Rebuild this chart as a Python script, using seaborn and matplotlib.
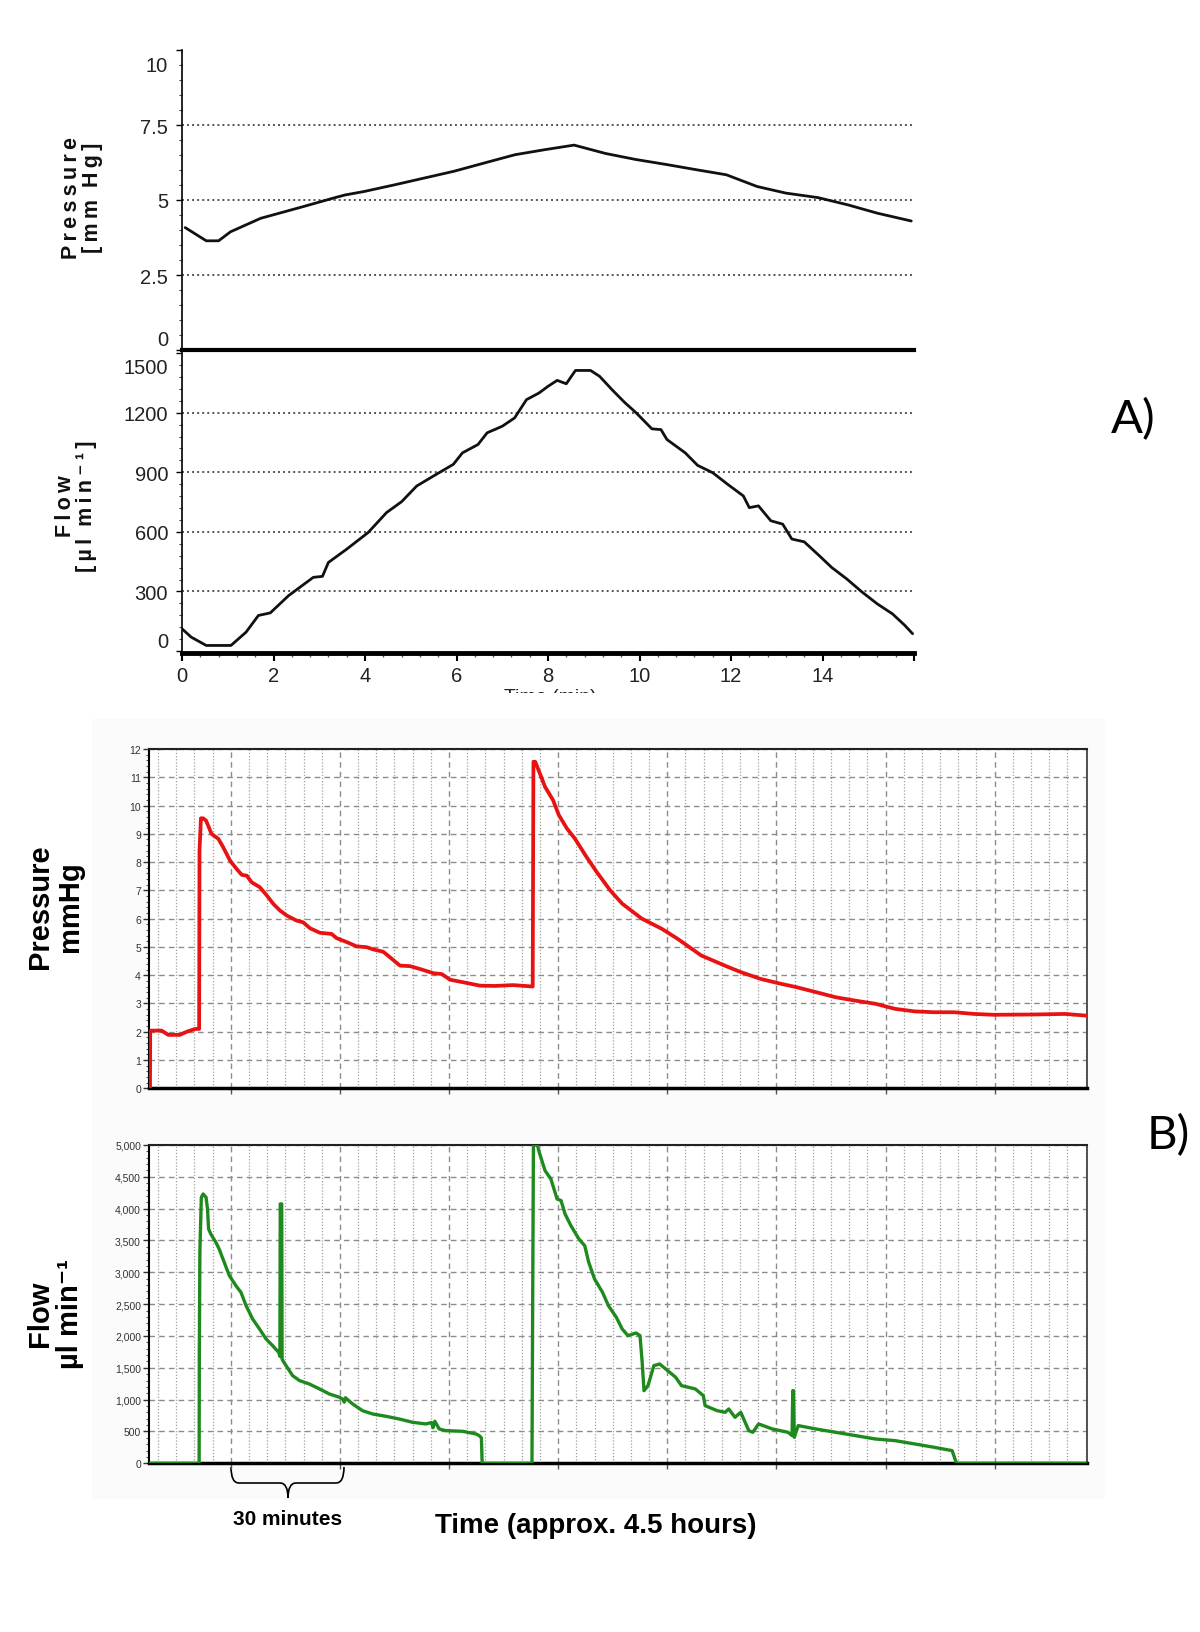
import matplotlib
matplotlib.use("Agg")
import matplotlib.pyplot as plt
import seaborn as sns
import pandas as pd
from matplotlib.ticker import MultipleLocator, FuncFormatter, NullFormatter
from matplotlib.transforms import ScaledTranslation, Bbox, TransformedBbox
from matplotlib.patches import Rectangle, PathPatch
from matplotlib.path import Path

# ---------------- Panel A data (time in min, 0..16) ----------------
a_time_p = [0.07, 0.53, 0.8, 1.06, 1.72, 2.65, 3.3, 3.57, 3.97, 4.63, 5.29, 5.95, 6.6, 7.28,
            7.94, 8.57, 9.26, 9.92, 10.6, 11.24, 11.9, 12.57, 13.2, 13.9, 14.55, 15.2, 15.94]
a_pressure = [4.08, 3.64, 3.64, 3.94, 4.39, 4.78, 5.06, 5.17, 5.28, 5.5, 5.73, 5.96, 6.23, 6.51,
              6.68, 6.83, 6.55, 6.35, 6.18, 6.01, 5.84, 5.45, 5.23, 5.08, 4.84, 4.56, 4.3]

a_time_f = [0.0, 0.2, 0.53, 1.07, 1.4, 1.67, 1.93, 2.33, 2.87, 3.07, 3.2, 3.6, 4.07, 4.47, 4.8,
            5.13, 5.53, 5.93, 6.13, 6.47, 6.67, 7.0, 7.27, 7.53, 7.8, 8.0, 8.2, 8.4, 8.6, 8.93,
            9.13, 9.4, 9.67, 9.93, 10.27, 10.47, 10.6, 11.0, 11.27, 11.6, 11.93, 12.27, 12.4,
            12.6, 12.87, 13.13, 13.33, 13.6, 13.93, 14.2, 14.53, 14.87, 15.2, 15.53, 15.8, 15.97]
a_flow = [112, 70, 28, 28, 95, 179, 192, 279, 371, 376, 446, 513, 597, 697, 752,
          831, 886, 940, 998, 1040, 1099, 1132, 1174, 1266, 1299, 1333, 1363, 1346, 1413, 1413,
          1383, 1316, 1253, 1199, 1119, 1115, 1065, 998, 935, 898, 839, 781, 722,
          731, 656, 639, 564, 550, 480, 421, 363, 296, 237, 187, 129, 87]

a_p_ticks = [0, 2.5, 5, 7.5, 10]
a_p_ticklabels = ["0", "2.5", "5", "7.5", "10"]
a_p_grid = [2.5, 5, 7.5]
a_f_ticks = [0, 300, 600, 900, 1200, 1500]
a_f_grid = [300, 600, 900, 1200]
a_x_ticks = [0, 2, 4, 6, 8, 10, 12, 14, 16]
a_x_ticklabels = ["0", "2", "4", "6", "8", "10", "12", "14", ""]

# ---------------- Panel B data (time in min) ----------------
b_time_p = [0.0, 0.2, 0.25, 3.4, 5.2, 8.4, 10.3, 12.6, 13.7, 13.8,
            14.2, 14.8, 15.6, 17.1, 19.0, 20.3, 22.2, 24.0, 25.4, 26.8,
            28.1, 30.4, 32.3, 34.1, 35.9, 37.8, 40.5, 42.3, 44.2, 46.9,
            50.1, 51.5, 54.3, 57.0, 59.8, 61.6, 64.3, 66.2, 68.9, 71.7,
            74.4, 78.1, 80.4, 82.7, 86.3, 90.9, 95.0, 100.0, 105.4, 105.6,
            106.1, 108.8, 111.0, 112.6, 114.8, 117.0, 120.2, 123.0, 126.7, 130.0,
            135.4, 140.9, 145.2, 151.7, 158.2, 162.6, 168.0, 173.5, 177.8, 183.3,
            188.7, 194.1, 199.6, 205.0, 210.4, 215.8, 221.3, 226.7, 232.1, 243.0,
            251.7, 257.7]
b_pressure = [0.0, 0.0, 2.04, 2.04, 1.89, 1.89, 2.0, 2.1, 2.1, 8.4,
              9.55, 9.55, 9.47, 9.0, 8.82, 8.53, 8.05, 7.76, 7.55, 7.52,
              7.29, 7.11, 6.82, 6.52, 6.29, 6.11, 5.93, 5.87, 5.66, 5.5,
              5.46, 5.31, 5.17, 5.02, 4.99, 4.91, 4.83, 4.63, 4.34, 4.32,
              4.22, 4.07, 4.04, 3.84, 3.75, 3.63, 3.62, 3.65, 3.6, 11.55,
              11.55, 10.66, 10.19, 9.66, 9.19, 8.83, 8.18, 7.65, 7.0, 6.53,
              6.0, 5.64, 5.29, 4.7, 4.34, 4.11, 3.87, 3.7, 3.58, 3.4,
              3.22, 3.1, 2.99, 2.81, 2.72, 2.69, 2.69, 2.63, 2.6, 2.61,
              2.63, 2.57]

b_time_f = [0.0, 13.7, 13.75, 13.9, 14.3, 14.8, 15.6, 16.0, 16.3, 16.9,
            18.3, 19.2, 20.6, 22.0, 23.8, 25.2, 26.6, 28.4, 30.3, 32.1,
            33.9, 35.6, 35.9, 36.0, 36.4, 36.5, 36.7, 37.6, 39.4, 41.3,
            44.0, 46.8, 49.5, 52.3, 53.3, 53.6, 53.9, 55.9, 58.6, 61.4,
            65.1, 68.7, 72.4, 76.0, 77.6, 78.0, 78.5, 79.7, 81.5, 86.1,
            89.8, 90.7, 91.3, 91.5, 105.2, 105.4, 105.6, 106.7, 107.2, 108.8,
            110.4, 112.1, 113.2, 114.3, 115.9, 118.1, 119.7, 120.8, 122.4, 124.6,
            126.2, 128.4, 130.0, 131.6, 133.8, 134.9, 135.5, 136.0, 137.1, 138.7,
            140.3, 142.5, 144.7, 146.3, 150.1, 152.3, 152.8, 156.1, 158.3, 159.3,
            161.0, 162.6, 164.8, 165.9, 167.5, 171.3, 175.6, 176.7, 176.9, 177.1,
            177.3, 178.4, 183.3, 188.7, 194.1, 199.6, 205.0, 210.4, 215.8, 220.7,
            221.8, 222.0, 257.7]
b_flow = [0, 0, 1680, 3300, 4178, 4231, 4178, 3995, 3681, 3602,
          3471, 3367, 3157, 2948, 2791, 2686, 2477, 2267, 2110, 1953,
          1848, 1740, 1680, 4074, 4074, 1640, 1613, 1534, 1377, 1299,
          1246, 1168, 1089, 1037, 1000, 960, 1030, 932, 827, 775,
          738, 696, 644, 618, 640, 560, 660, 539, 513, 503,
          461, 435, 400, 0, 0, 2600, 5000, 5000, 4885, 4597,
          4466, 4152, 4126, 3916, 3733, 3524, 3419, 3157, 2895, 2686,
          2477, 2293, 2110, 2005, 2047, 2005, 1586, 1141, 1220, 1534,
          1560, 1456, 1351, 1220, 1168, 1063, 906, 827, 801, 853,
          723, 801, 513, 487, 618, 539, 487, 435, 1141, 1141,
          408, 592, 539, 487, 435, 382, 356, 304, 251, 199,
          16, 0, 0]

B_TMAX = 257.7

# ---------------- Style ----------------
sns.set_style("white")
plt.rcParams['font.family'] = ['Liberation Sans', 'DejaVu Sans']
SANS = ['Liberation Sans', 'DejaVu Sans']
NARROW = ['Liberation Sans Narrow', 'Liberation Sans', 'DejaVu Sans']

W, H = 1200, 1633
fig = plt.figure(figsize=(W / 100, H / 100), dpi=100)
fig.patch.set_facecolor('white')


def box(l, t, r, b):
    return [l / W, 1 - b / H, (r - l) / W, (b - t) / H]


def fxy(x, y):
    return x / W, 1 - y / H


# background / annotation layer in pixel coords
bg = fig.add_axes([0, 0, 1, 1], zorder=0)
bg.set_xlim(0, W)
bg.set_ylim(H, 0)
bg.axis('off')
bg.add_patch(Rectangle((92, 720), 1013, 780, facecolor='#fbfbfb', edgecolor='none'))


def style_labels(labels, size, color, family, weight='normal'):
    for lab in labels:
        lab.set_fontfamily(family)
        lab.set_fontsize(size)
        lab.set_color(color)
        lab.set_fontweight(weight)


def shift_ylabel(ax, idx, dy_px):
    lab = ax.get_yticklabels()[idx]
    lab.set_transform(lab.get_transform() + ScaledTranslation(0, dy_px / 100, fig.dpi_scale_trans))


# ================= Panel A: pressure =================
axP = fig.add_axes(box(182, 51, 914, 351), zorder=2)
axP.set_facecolor('none')
sns.lineplot(data=pd.DataFrame({'t': a_time_p, 'v': a_pressure}), x='t', y='v', ax=axP,
             color='#111111', linewidth=2.0, estimator=None, sort=False, legend=False)
axP.set_xlim(0, 16)
axP.set_ylim(0, 10)
for v in a_p_grid:
    axP.axhline(v, color='#555555', lw=1.4, ls=(0, (1, 1.6)), zorder=1)
axP.set_yticks(a_p_ticks, labels=a_p_ticklabels)
axP.yaxis.set_minor_locator(MultipleLocator(0.5))
axP.set_xticks([])
axP.set_xlabel('')
axP.set_ylabel('')
for s in ['top', 'right']:
    axP.spines[s].set_visible(False)
axP.spines['left'].set_linewidth(1.2)
axP.spines['left'].set_color('black')
axP.spines['bottom'].set_linewidth(3.0)
axP.spines['bottom'].set_color('black')
axP.tick_params(axis='y', which='major', direction='out', length=4, width=1, pad=6, left=True, color='black')
axP.tick_params(axis='y', which='minor', direction='out', length=2, width=0.8, left=True, color='#444')
style_labels(axP.get_yticklabels(), 14.5, '#222222', NARROW)
shift_ylabel(axP, 0, 13)
shift_ylabel(axP, 4, -13)

# ================= Panel A: flow =================
axF = fig.add_axes(box(182, 351, 914, 654), zorder=2)
axF.set_facecolor('none')
sns.lineplot(data=pd.DataFrame({'t': a_time_f, 'v': a_flow}), x='t', y='v', ax=axF,
             color='#111111', linewidth=2.0, estimator=None, sort=False, legend=False)
axF.set_xlim(0, 16)
axF.set_ylim(-10, 1516)
for v in a_f_grid:
    axF.axhline(v, color='#555555', lw=1.4, ls=(0, (1, 1.6)), zorder=1)
axF.set_yticks(a_f_ticks, labels=[str(v) for v in a_f_ticks])
axF.yaxis.set_minor_locator(MultipleLocator(60))
axF.set_xticks(a_x_ticks, labels=a_x_ticklabels)
axF.xaxis.set_minor_locator(MultipleLocator(0.4))
axF.set_xlabel('')
axF.set_ylabel('')
for s in ['top', 'right']:
    axF.spines[s].set_visible(False)
axF.spines['left'].set_linewidth(1.2)
axF.spines['left'].set_color('black')
axF.spines['bottom'].set_linewidth(3.5)
axF.spines['bottom'].set_color('black')
axF.tick_params(axis='y', which='major', direction='out', length=4, width=1, pad=6, left=True, color='black')
axF.tick_params(axis='y', which='minor', direction='out', length=2, width=0.8, left=True, color='#444')
axF.tick_params(axis='x', which='major', direction='out', length=6, width=1.5, pad=3, bottom=True, color='black')
axF.tick_params(axis='x', which='minor', direction='out', length=3, width=1, bottom=True, color='#555')
style_labels(axF.get_yticklabels() + axF.get_xticklabels(), 14.5, '#222222', NARROW)
shift_ylabel(axF, 0, 12)
shift_ylabel(axF, 5, -12)

# truncated axis title of panel A (cut off in the source figure)
tt = fig.text(*fxy(550, 689), 'Time (min)', ha='center', va='top', fontsize=14,
              family=NARROW, color='#222222')
tt.set_clip_box(TransformedBbox(Bbox.from_extents(0, 1 - 694 / H, 1, 1), fig.transFigure))
tt.set_clip_on(True)

TS = "\u2009"
fig.text(*fxy(82, 198), TS.join("Pressure") + "\n" + TS.join("[mm") + "  " + TS.join("Hg]"),
         rotation=90, ha='center', va='center', fontsize=15.5, fontweight='bold',
         linespacing=1.0, family=SANS, color='#111111')
fig.text(*fxy(76, 506), TS.join("Flow") + "\n" + TS.join("[µl") + "  " + TS.join("min⁻¹]"),
         rotation=90, ha='center', va='center', fontsize=15.5, fontweight='bold',
         linespacing=1.0, family=SANS, color='#111111')
fig.text(*fxy(1133, 420), "A)", ha='center', va='center', fontsize=34,
         family=['Lato', 'Open Sans', 'DejaVu Sans'], color='black')


# ================= Panel B =================
def panel_b(rect, t, v, color, lw, ylim, ymaj, ymin, fmt):
    ax = fig.add_axes(rect, zorder=2)
    ax.set_facecolor('white')
    sns.lineplot(data=pd.DataFrame({'t': t, 'v': v}), x='t', y='v', ax=ax, color=color,
                 linewidth=lw, estimator=None, sort=False, legend=False, zorder=3)
    ax.set_xlim(0, B_TMAX)
    ax.set_ylim(*ylim)
    ax.set_xlabel('')
    ax.set_ylabel('')
    ax.xaxis.set_major_locator(MultipleLocator(30, offset=22.4))
    ax.xaxis.set_minor_locator(MultipleLocator(5, offset=2.4))
    ax.xaxis.set_major_formatter(NullFormatter())
    ax.yaxis.set_major_locator(MultipleLocator(ymaj))
    ax.yaxis.set_minor_locator(MultipleLocator(ymin))
    ax.yaxis.set_major_formatter(FuncFormatter(fmt))
    ax.set_axisbelow(True)
    ax.xaxis.grid(True, which='major', color='#8c8c8c', lw=1.0, ls=(0, (4, 3)))
    ax.xaxis.grid(True, which='minor', color='#a0a0a0', lw=0.9, ls=(0, (1, 1.5)))
    ax.yaxis.grid(True, which='major', color='#8c8c8c', lw=1.0, ls=(0, (4, 3)))
    ax.yaxis.grid(False, which='minor')
    ax.spines['left'].set_linewidth(1.5)
    ax.spines['left'].set_color('black')
    ax.spines['bottom'].set_linewidth(2.5)
    ax.spines['bottom'].set_color('black')
    ax.spines['top'].set_linewidth(1.5)
    ax.spines['top'].set_color('#222222')
    ax.spines['right'].set_linewidth(1.3)
    ax.spines['right'].set_color('#444444')
    ax.tick_params(axis='y', which='major', direction='out', length=4, width=1, pad=2, left=True, color='#333')
    ax.tick_params(axis='y', which='minor', direction='out', length=2, width=0.8, left=True, color='#555')
    ax.tick_params(axis='x', which='major', direction='out', length=4, width=1, bottom=True, color='#555')
    ax.tick_params(axis='x', which='minor', length=0, bottom=False)
    style_labels(ax.get_yticklabels(), 7.5, '#333333', NARROW)
    return ax


axBP = panel_b(box(149.3, 750, 1086.7, 1089.3), b_time_p, b_pressure, '#e81212', 2.7,
               (0, 12), 1, 0.2, lambda v, p: f"{v:.0f}")
axBF = panel_b(box(149.3, 1146, 1086.7, 1464.3), b_time_f, b_flow, '#1e8a1e', 2.4,
               (0, 5000), 500, 100, lambda v, p: f"{v:,.0f}")

fig.text(*fxy(55, 907), "Pressure\nmmHg", rotation=90, ha='center', va='center',
         fontsize=21, fontweight='bold', linespacing=1.05, family=SANS, color='black')
fig.text(*fxy(55, 1314), "Flow\nµl min⁻¹", rotation=90, ha='center', va='center',
         fontsize=21, fontweight='bold', linespacing=1.05, family=SANS, color='black')
fig.text(*fxy(1168, 1136), "B)", ha='center', va='center', fontsize=34,
         family=['Lato', 'Open Sans', 'DejaVu Sans'], color='black')

# 30-minute brace
verts = [(231, 1468), (231, 1484), (239, 1484), (280, 1484), (288, 1484), (288, 1499),
         (288, 1484), (296, 1484), (336, 1484), (344, 1484), (344, 1468)]
codes = [Path.MOVETO, Path.CURVE3, Path.CURVE3, Path.LINETO, Path.CURVE3, Path.CURVE3,
         Path.CURVE3, Path.CURVE3, Path.LINETO, Path.CURVE3, Path.CURVE3]
bg.add_patch(PathPatch(Path(verts, codes), facecolor='none', edgecolor='black', lw=1.2))
fig.text(*fxy(288, 1520), "30 minutes", ha='center', va='center', fontsize=15,
         fontweight='bold', family=SANS, color='black')
fig.text(*fxy(596, 1526), "Time (approx. 4.5 hours)", ha='center', va='center', fontsize=20,
         fontweight='bold', family=SANS, color='black')

fig.savefig("out.png", dpi=100, facecolor='white')
